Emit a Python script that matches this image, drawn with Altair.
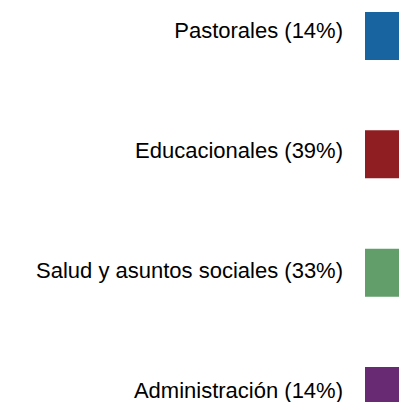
import altair as alt
import pandas as pd

categories = ["Pastorales", "Educacionales", "Salud y asuntos sociales", "Administración"]
percentages = [14, 39, 33, 14]
colors = ["#1764A0", "#8E1E22", "#619E6A", "#682B73"]

df = pd.DataFrame({
    "categoria": categories,
    "pct": percentages,
})
df["etiqueta"] = [f"{c} ({p}%)" for c, p in zip(categories, percentages)]

square_scale = alt.Scale(type="point", domain=categories, range=[28, 383], padding=0)
text_scale = alt.Scale(type="point", domain=categories, range=[30, 390], padding=0)

squares = alt.Chart(df).mark_square(size=2304, filled=True, opacity=1, strokeWidth=0).encode(
    x=alt.value(381),
    y=alt.Y("categoria:N", scale=square_scale, axis=None),
    color=alt.Color("categoria:N", scale=alt.Scale(domain=categories, range=colors), legend=None),
)

labels = alt.Chart(df).mark_text(
    align="right", baseline="alphabetic", font="Liberation Sans, Arial",
    fontSize=22, color="#000000",
).encode(
    x=alt.value(335),
    y=alt.Y("categoria:N", scale=text_scale, axis=None),
    text="etiqueta:N",
)

chart = (squares + labels).resolve_scale(y="independent").properties(
    width=391, height=394,
    autosize=alt.AutoSizeParams(type="none"),
    padding=0,
).configure_view(stroke=None)

chart.save("out.html", embed_options={"renderer": "svg", "actions": False})
